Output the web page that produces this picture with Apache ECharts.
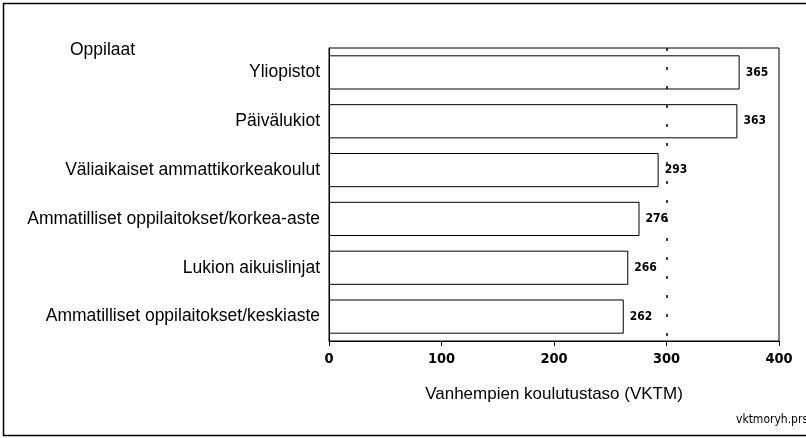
<!DOCTYPE html>
<html>
<head>
<meta charset="utf-8">
<script src="https://cdn.jsdelivr.net/npm/echarts@6/dist/echarts.min.js"></script>
<style>
  html, body { margin: 0; padding: 0; background: #fff; }
  #chart { width: 806px; height: 438px; }
</style>
</head>
<body>
<div id="chart"></div>
<script>
// oppilasryhmät ja vanhempien koulutustaso
const categories = [
  'Yliopistot',
  'Päivälukiot',
  'Väliaikaiset ammattikorkeakoulut',
  'Ammatilliset oppilaitokset/korkea-aste',
  'Lukion aikuislinjat',
  'Ammatilliset oppilaitokset/keskiaste',
];
const values = [365, 363, 293, 276, 266, 262];
const xTicks = [0, 100, 200, 300, 400];
const refValue = 300;

const narrow = "'DejaVu Sans Condensed', 'Liberation Sans Narrow', sans-serif";
const wide = "'Liberation Sans', Arial, sans-serif";

const chart = echarts.init(document.getElementById('chart'), null, { renderer: 'canvas' });
chart.setOption({
  animation: false,
  backgroundColor: '#fff',
  textStyle: { fontFamily: narrow, color: '#000' },
  grid: {
    left: 329, right: 27, top: 48, bottom: 97,
    show: true, borderColor: '#000', borderWidth: 1, backgroundColor: 'transparent',
  },
  graphic: [
    // ulkokehys
    { type: 'rect', shape: { x: 3.5, y: 3.5, width: 830, height: 432 },
      style: { fill: 'none', stroke: '#000', lineWidth: 1.5 } },
    { type: 'text', left: 70, top: 41,
      style: { text: 'Oppilaat', font: '17.5px ' + wide, fill: '#000' } },
    { type: 'text', right: -2, top: 414,
      style: { text: 'vktmoryh.prs', font: '12px ' + narrow, fill: '#000' } },
  ],
  xAxis: {
    type: 'value',
    min: xTicks[0],
    max: xTicks[xTicks.length - 1],
    interval: 100,
    name: 'Vanhempien koulutustaso (VKTM)',
    nameLocation: 'middle',
    nameGap: 45,
    nameTextStyle: { fontSize: 17, fontFamily: wide, color: '#000' },
    axisLine: { show: true, lineStyle: { color: '#000', width: 1 } },
    axisTick: { show: true, length: 5, lineStyle: { color: '#000' } },
    axisLabel: { fontSize: 14.5, fontWeight: 'bold', color: '#000', margin: 11, fontFamily: narrow },
    splitLine: { show: false },
  },
  yAxis: {
    type: 'category',
    data: categories,
    inverse: true,
    axisLine: { show: true, lineStyle: { color: '#000', width: 1 } },
    axisTick: { show: false },
    axisLabel: { fontSize: 17.5, color: '#000', margin: 9, fontFamily: wide },
  },
  series: [
    {
      type: 'bar',
      data: values,
      z: 3,
      barCategoryGap: '30%',
      itemStyle: { color: '#fff', borderColor: '#000', borderWidth: 1 },
      label: {
        show: true, position: 'right', distance: 6,
        fontSize: 12, fontWeight: 'bold', color: '#000', fontFamily: narrow,
      },
    },
    {
      // katkoviiva arvon 300 kohdalla, palkkien alla
      type: 'line',
      data: [],
      z: 1,
      markLine: {
        silent: true,
        symbol: 'none',
        label: { show: false },
        lineStyle: { color: '#000', type: [3, 16], width: 1.5 },
        data: [{ xAxis: refValue }],
      },
    },
  ],
});
</script>
</body>
</html>
